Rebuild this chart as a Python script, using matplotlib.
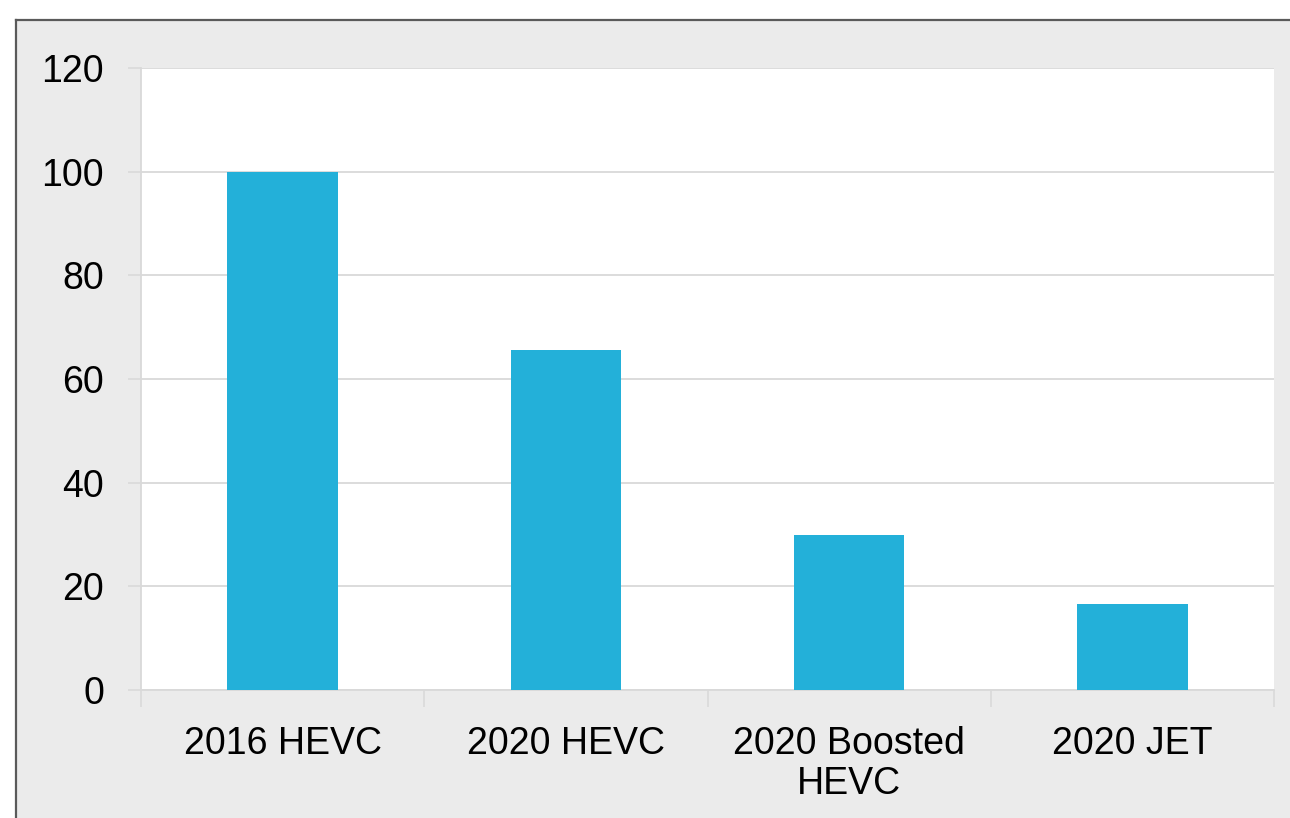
import numpy as np
import matplotlib.pyplot as plt
from matplotlib.lines import Line2D
from matplotlib.patches import Rectangle

categories = ['2016 HEVC', '2020 HEVC', '2020 Boosted\nHEVC', '2020 JET']
values = [100, 65.5, 30, 16.6]
yticks = [0, 20, 40, 60, 80, 100, 120]

bar_color = '#23b0d9'
grid_color = '#d9d9d9'
panel_color = '#ebebeb'

plt.rcParams['font.family'] = ['Liberation Sans', 'DejaVu Sans']

fig = plt.figure(figsize=(12.9, 8.18), dpi=100)
fig.patch.set_facecolor('white')

# grey panel with a dark frame on the top and left edges
x0, y1 = 16 / 1290, 1 - 20 / 818
fig.add_artist(Rectangle((x0, 0), 1 - x0, y1, transform=fig.transFigure,
                         facecolor=panel_color, edgecolor='none', zorder=0))
fig.add_artist(Line2D([x0, 1], [y1, y1], transform=fig.transFigure,
                      color='#5a5a5a', lw=1.6, zorder=1))
fig.add_artist(Line2D([x0, x0], [0, y1], transform=fig.transFigure,
                      color='#5a5a5a', lw=1.6, zorder=1))

ax = fig.add_axes([141 / 1290, 1 - 690 / 818, 1133 / 1290, 622 / 818])
ax.set_facecolor('white')

x = np.arange(len(categories))
ax.bar(x, values, width=0.39, color=bar_color, zorder=3)

ax.set_xlim(-0.5, len(categories) - 0.5)
ax.set_ylim(0, 120)
ax.set_yticks(yticks)
ax.yaxis.grid(True, color=grid_color, lw=1.3, zorder=0)
ax.set_axisbelow(True)

ax.set_xticks(x)
ax.set_xticklabels(categories, fontsize=27, linespacing=1.15)
ax.set_xticks(np.arange(-0.5, len(categories)), minor=True)
ax.tick_params(axis='x', which='major', length=0, pad=26)
ax.tick_params(axis='x', which='minor', length=12, width=1.2, color=grid_color)
ax.tick_params(axis='y', length=9.5, width=1.2, color=grid_color,
               labelsize=27, pad=17)

for side in ['top', 'right']:
    ax.spines[side].set_visible(False)
for side in ['left', 'bottom']:
    ax.spines[side].set_color(grid_color)
    ax.spines[side].set_linewidth(1.3)

fig.savefig('out.png', dpi=100, facecolor=fig.get_facecolor())
